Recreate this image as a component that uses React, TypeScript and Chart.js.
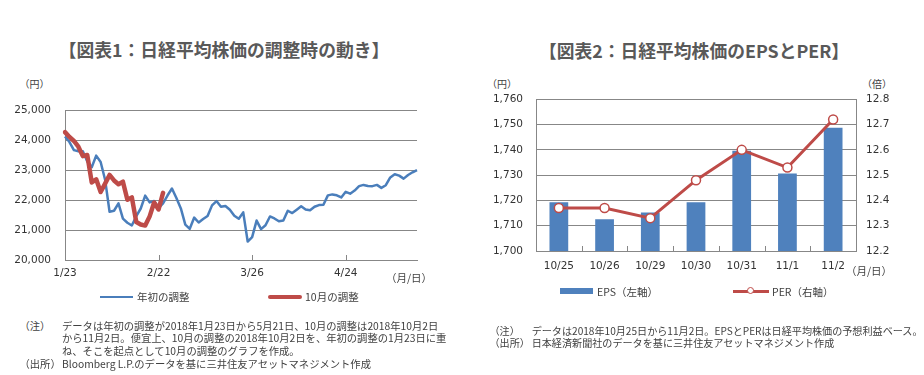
import React, { useEffect, useRef } from 'react';
import { Chart, registerables } from 'chart.js';

Chart.register(...registerables);

// ---------- 図表1 data ----------
const DAYS = [
  '1/23', '1/24', '1/25', '1/26', '1/29', '1/30', '1/31', '2/1', '2/2', '2/5',
  '2/6', '2/7', '2/8', '2/9', '2/13', '2/14', '2/15', '2/16', '2/19', '2/20',
  '2/21', '2/22', '2/23', '2/26', '2/27', '2/28', '3/1', '3/2', '3/5', '3/6',
  '3/7', '3/8', '3/9', '3/12', '3/13', '3/14', '3/15', '3/16', '3/19', '3/20',
  '3/22', '3/23', '3/26', '3/27', '3/28', '3/29', '3/30', '4/2', '4/3', '4/4',
  '4/5', '4/6', '4/9', '4/10', '4/11', '4/12', '4/13', '4/16', '4/17', '4/18',
  '4/19', '4/20', '4/23', '4/24', '4/25', '4/26', '4/27', '5/1', '5/2', '5/7',
  '5/8', '5/9', '5/10', '5/11', '5/14', '5/15', '5/16', '5/17', '5/18', '5/21',
];
const EARLY_ADJ = [
  24124, 23940, 23669, 23631, 23629, 23291, 23098, 23486, 23274, 22682,
  21610, 21645, 21891, 21383, 21245, 21154, 21464, 21720, 22150, 21925,
  21970, 21736, 21893, 22153, 22389, 22068, 21724, 21182, 21042, 21417,
  21252, 21368, 21469, 21824, 21968, 21777, 21803, 21676, 21480, 21380,
  21591, 20617, 20766, 21317, 21031, 21159, 21454, 21388, 21292, 21320,
  21645, 21567, 21678, 21794, 21687, 21660, 21778, 21835, 21847, 22158,
  22191, 22162, 22088, 22278, 22215, 22319, 22467, 22508, 22472, 22467,
  22508, 22409, 22497, 22758, 22866, 22818, 22717, 22838, 22930, 23002,
];
const OCT_ADJ = [
  24270, 24110, 23975, 23784, 23470, 23507, 22591, 22695, 22271, 22549,
  22841, 22658, 22532, 22615, 22011, 22091, 21268, 21185, 21149, 21457,
  21920, 21687, 22243,
];
const DAY_TICKS = ['1/23', '2/22', '3/26', '4/24'];
const PRICE_TICKS = [20000, 21000, 22000, 23000, 24000, 25000];

// ---------- 図表2 data ----------
const EPS_DATES = ['10/25', '10/26', '10/29', '10/30', '10/31', '11/1', '11/2'];
const EPS = [1719.3, 1712.6, 1715.2, 1719.3, 1739.7, 1730.7, 1748.7];
const PER = [12.37, 12.37, 12.33, 12.48, 12.6, 12.53, 12.72];
const EPS_TICKS = [1700, 1710, 1720, 1730, 1740, 1750, 1760];
const PER_TICKS = [12.2, 12.3, 12.4, 12.5, 12.6, 12.7, 12.8];

const BLUE = '#4A7EBB';
const BAR_BLUE = '#4F81BD';
const RED = '#BE4B48';
const GRID = '#878787';
const TICK_FONT = { family: "'DejaVu Sans', Verdana, sans-serif", size: 10.5 };
const TICK_COLOR = '#333333';
const JP = "'Noto Sans CJK JP', 'Noto Sans', sans-serif";

function innerTickPlugin(getPositions: (scale: any) => number[]) {
  return {
    id: 'innerTicks',
    afterDatasetsDraw(chart: any) {
      const { ctx, chartArea, scales } = chart;
      const xs = scales.x;
      ctx.save();
      ctx.strokeStyle = GRID;
      ctx.lineWidth = 1;
      for (const v of getPositions(xs)) {
        const px = Math.round(xs.getPixelForValue(v)) + 0.5;
        ctx.beginPath();
        ctx.moveTo(px, chartArea.bottom);
        ctx.lineTo(px, chartArea.bottom - 5);
        ctx.stroke();
      }
      ctx.restore();
    },
  };
}

function PriceChart() {
  const ref = useRef<HTMLCanvasElement>(null);
  useEffect(() => {
    const chart = new Chart(ref.current as HTMLCanvasElement, {
      type: 'line',
      data: {
        labels: DAYS,
        datasets: [
          {
            label: '年初の調整',
            data: EARLY_ADJ,
            borderColor: BLUE,
            borderWidth: 2.5,
            pointRadius: 0,
            borderJoinStyle: 'round',
            order: 2,
          },
          {
            label: '10月の調整',
            data: OCT_ADJ,
            borderColor: RED,
            borderWidth: 4.5,
            pointRadius: 0,
            borderJoinStyle: 'round',
            borderCapStyle: 'round',
            order: 1,
          },
        ],
      },
      options: {
        responsive: false,
        animation: false,
        devicePixelRatio: 1,
        events: [],
        layout: { padding: { top: 13, right: 43, bottom: 0, left: 0 } },
        plugins: { legend: { display: false }, tooltip: { enabled: false } },
        scales: {
          x: {
            type: 'category',
            offset: false,
            grid: { display: false, drawTicks: false },
            border: { display: true, color: GRID, width: 1 },
            ticks: {
              autoSkip: false,
              maxRotation: 0,
              minRotation: 0,
              padding: 7,
              color: TICK_COLOR,
              font: TICK_FONT,
              callback: (_v: any, i: number) => (DAY_TICKS.includes(DAYS[i]) ? DAYS[i] : ''),
            },
            afterFit: (s: any) => {
              s.height = 30;
            },
          },
          y: {
            min: 20000,
            max: 25000,
            grid: { color: GRID, lineWidth: 1, drawTicks: false },
            border: { display: true, color: GRID, width: 1 },
            afterBuildTicks: (s: any) => {
              s.ticks = PRICE_TICKS.map((v) => ({ value: v }));
            },
            ticks: {
              padding: 14,
              color: TICK_COLOR,
              font: TICK_FONT,
              callback: (v: any) => Number(v).toLocaleString('en-US'),
            },
            afterFit: (s: any) => {
              s.width = 65;
            },
          },
        },
      },
      plugins: [
        innerTickPlugin(() => DAY_TICKS.map((d) => DAYS.indexOf(d)).filter((i) => i > 0)),
      ],
    } as any);
    return () => chart.destroy();
  }, []);
  return (
    <canvas
      ref={ref}
      width={460}
      height={200}
      style={{ position: 'absolute', left: 0, top: 90, width: 460, height: 200 }}
    />
  );
}

function EpsChart() {
  const ref = useRef<HTMLCanvasElement>(null);
  useEffect(() => {
    const chart = new Chart(ref.current as HTMLCanvasElement, {
      type: 'bar',
      data: {
        labels: EPS_DATES,
        datasets: [
          {
            type: 'line',
            label: 'PER（右軸）',
            data: PER,
            yAxisID: 'y1',
            borderColor: RED,
            borderWidth: 3,
            pointRadius: 4.5,
            pointBorderWidth: 1.5,
            pointBackgroundColor: '#FFFFFF',
            pointBorderColor: RED,
            order: 1,
          },
          {
            type: 'bar',
            label: 'EPS（左軸）',
            data: EPS,
            yAxisID: 'y',
            backgroundColor: BAR_BLUE,
            borderWidth: 0,
            categoryPercentage: 1,
            barPercentage: 0.41,
            order: 2,
          },
        ],
      },
      options: {
        responsive: false,
        animation: false,
        devicePixelRatio: 1,
        events: [],
        layout: { padding: { top: 18, right: 0, bottom: 0, left: 0 } },
        plugins: { legend: { display: false }, tooltip: { enabled: false } },
        scales: {
          x: {
            offset: true,
            grid: { display: false, drawTicks: false },
            border: { display: true, color: GRID, width: 1 },
            ticks: { padding: 9, color: TICK_COLOR, font: TICK_FONT, maxRotation: 0 },
            afterFit: (s: any) => {
              s.height = 29;
            },
          },
          y: {
            position: 'left',
            min: 1700,
            max: 1760,
            grid: { color: GRID, lineWidth: 1, drawTicks: false },
            border: { display: true, color: GRID, width: 1 },
            afterBuildTicks: (s: any) => {
              s.ticks = EPS_TICKS.map((v) => ({ value: v }));
            },
            ticks: {
              padding: 13,
              color: TICK_COLOR,
              font: TICK_FONT,
              callback: (v: any) => Number(v).toLocaleString('en-US'),
            },
            afterFit: (s: any) => {
              s.width = 66;
            },
          },
          y1: {
            position: 'right',
            min: 12.2,
            max: 12.8,
            grid: { drawOnChartArea: false, drawTicks: false },
            border: { display: true, color: GRID, width: 1 },
            afterBuildTicks: (s: any) => {
              s.ticks = PER_TICKS.map((v) => ({ value: v }));
            },
            ticks: {
              padding: 10,
              color: TICK_COLOR,
              font: TICK_FONT,
              callback: (v: any) => Number(v).toFixed(1),
            },
            afterFit: (s: any) => {
              s.width = 68;
            },
          },
        },
      },
      plugins: [innerTickPlugin(() => EPS_DATES.slice(1).map((_d, i) => i + 0.5))],
    } as any);
    return () => chart.destroy();
  }, []);
  return (
    <canvas
      ref={ref}
      width={454}
      height={200}
      style={{ position: 'absolute', left: 470, top: 80, width: 454, height: 200 }}
    />
  );
}

function Txt(props: {
  x: number;
  y: number;
  size?: number;
  bold?: boolean;
  color?: string;
  family?: string;
  children: React.ReactNode;
}) {
  const size = props.size ?? 10.5;
  const lh = Math.round(size * 1.3);
  return (
    <div
      style={{
        position: 'absolute',
        left: props.x,
        top: props.y - lh / 2,
        fontSize: size,
        lineHeight: `${lh}px`,
        fontWeight: props.bold ? 700 : 400,
        color: props.color ?? '#404040',
        fontFamily: props.family ?? JP,
        whiteSpace: 'nowrap',
      }}
    >
      {props.children}
    </div>
  );
}

function CenterTitle(props: { cx: number; y: number; children: React.ReactNode }) {
  return (
    <div
      style={{
        position: 'absolute',
        left: props.cx - 200,
        width: 400,
        top: props.y - 12,
        lineHeight: '24px',
        textAlign: 'center',
        fontSize: 17.8,
        fontWeight: 700,
        color: '#595959',
        fontFamily: JP,
        whiteSpace: 'nowrap',
      }}
    >
      {props.children}
    </div>
  );
}

export default function App() {
  const noteSize = 10.3;
  const noteSize2 = 10.1;
  return (
    <div
      style={{
        position: 'fixed',
        left: 0,
        top: 0,
        width: 924,
        height: 375,
        background: '#FFFFFF',
        overflow: 'hidden',
      }}
    >
      {/* 図表1 */}
      <CenterTitle cx={224} y={49}>【図表1：日経平均株価の調整時の動き】</CenterTitle>
      <Txt x={19.5} y={83} size={10}>（円）</Txt>
      <PriceChart />
      <Txt x={386} y={278} size={10.5}>（月/日）</Txt>
      <div style={{ position: 'absolute', left: 100, top: 295.5, width: 33, height: 2.5, background: BLUE }} />
      <Txt x={137} y={297} size={10.5}>年初の調整</Txt>
      <div
        style={{ position: 'absolute', left: 268, top: 294.5, width: 34, height: 4.5, borderRadius: 2.25, background: RED }}
      />
      <Txt x={305} y={297} size={10.5}>10月の調整</Txt>
      <Txt x={19.5} y={325} size={noteSize}>（注）</Txt>
      <Txt x={62} y={325} size={noteSize}>データは年初の調整が2018年1月23日から5月21日、10月の調整は2018年10月2日</Txt>
      <Txt x={62} y={337.7} size={noteSize}>から11月2日。便宜上、10月の調整の2018年10月2日を、年初の調整の1月23日に重</Txt>
      <Txt x={62} y={350.3} size={noteSize}>ね、そこを起点として10月の調整のグラフを作成。</Txt>
      <Txt x={19.5} y={363} size={noteSize}>（出所）</Txt>
      <Txt x={62} y={363} size={noteSize}>Bloomberg L.P.のデータを基に三井住友アセットマネジメント作成</Txt>

      {/* 図表2 */}
      <CenterTitle cx={694} y={50}>【図表2：日経平均株価のEPSとPER】</CenterTitle>
      <Txt x={487} y={83} size={10}>（円）</Txt>
      <Txt x={862} y={83} size={10}>（倍）</Txt>
      <EpsChart />
      <Txt x={846} y={271} size={10.5}>（月/日）</Txt>
      <div style={{ position: 'absolute', left: 560, top: 288, width: 33, height: 6, background: BAR_BLUE }} />
      <Txt x={597} y={291.5} size={10.5}>EPS（左軸）</Txt>
      <div style={{ position: 'absolute', left: 733, top: 289.5, width: 36, height: 3, background: RED }} />
      <div
        style={{
          position: 'absolute',
          left: 747,
          top: 287,
          width: 5,
          height: 5,
          borderRadius: '50%',
          border: `1.5px solid ${RED}`,
          background: '#FFFFFF',
        }}
      />
      <Txt x={772} y={291.5} size={10.5}>PER（右軸）</Txt>
      <Txt x={489.5} y={330} size={noteSize2}>（注）</Txt>
      <Txt x={531.7} y={330} size={noteSize2}>データは2018年10月25日から11月2日。EPSとPERは日経平均株価の予想利益ベース。</Txt>
      <Txt x={489.5} y={342} size={noteSize2}>（出所）</Txt>
      <Txt x={531.7} y={342} size={noteSize2}>日本経済新聞社のデータを基に三井住友アセットマネジメント作成</Txt>
    </div>
  );
}
